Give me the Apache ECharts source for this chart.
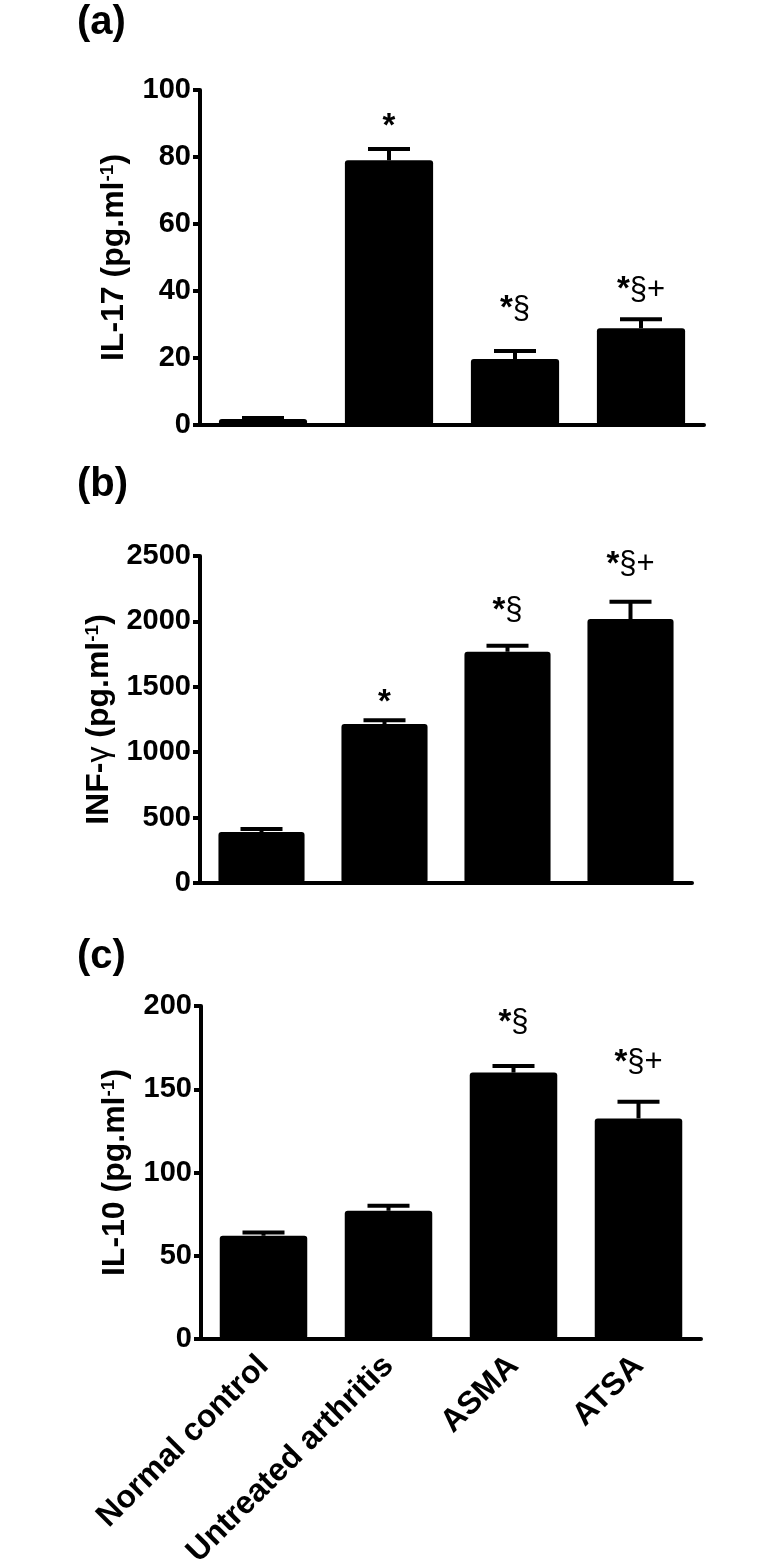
<!DOCTYPE html>
<html><head><meta charset="utf-8">
<script src="https://cdn.jsdelivr.net/npm/echarts@6/dist/echarts.min.js"></script>
<style>html,body{margin:0;padding:0;background:#fff}#c{width:770px;height:1567px}</style>
</head><body><div id="c"></div>
<script>
// ---------------- data ----------------
const categories = ['Normal control', 'Untreated arthritis', 'ASMA', 'ATSA'];

const il17Mean = [1.8, 79, 19.7, 28.9];
const il17Sem  = [0.3, 3.4, 2.4, 2.7];
const il17Marks = ['', '*', '*§', '*§+'];
const il17Ticks = [0, 20, 40, 60, 80, 100];

const infMean = [390, 1215, 1768, 2018];
const infSem  = [22, 29, 46, 132];
const infMarks = ['', '*', '*§', '*§+'];
const infTicks = [0, 500, 1000, 1500, 2000, 2500];

const il10Mean = [62, 77, 160, 132.5];
const il10Sem  = [2, 3, 4, 10];
const il10Marks = ['', '', '*§', '*§+'];
const il10Ticks = [0, 50, 100, 150, 200];

// ---------------- layout / style ----------------
const FONT = 'Liberation Sans, Arial, Helvetica, sans-serif';
const gapsA = [0, 22, 42, 29];
const gapsB = [0, 17, 35, 37];
const gapsC = [0, 0, 43, 39];
const grids = [
  {left: 200, top: 90, width: 504, height: 335, outerBoundsMode: 'none', containLabel: false},
  {left: 200, top: 556, width: 492, height: 327, outerBoundsMode: 'none', containLabel: false},
  {left: 201, top: 1006, width: 500, height: 333, outerBoundsMode: 'none', containLabel: false}
];

function markRich(m) {
  if (!m) return '';
  let s = '';
  if (m[0] === '*') { s += '{s|*}'; m = m.slice(1); }
  if (m) s += '{n|' + m + '}';
  return s;
}

function errRender(marks, gaps) {
  return function (params, api) {
    const i = api.value(0);
    const m = api.value(1), e = api.value(2);
    const base = api.coord([i, m]);
    const top = api.coord([i, m + e]);
    const hw = 21;
    const children = [
      {type: 'line', shape: {x1: base[0], y1: base[1], x2: top[0], y2: top[1]}, style: {stroke: '#000', lineWidth: 4}},
      {type: 'line', shape: {x1: top[0] - hw, y1: top[1], x2: top[0] + hw, y2: top[1]}, style: {stroke: '#000', lineWidth: 4}}
    ];
    if (marks[i]) {
      children.push({
        type: 'text', x: top[0], y: top[1] - gaps[i],
        style: {
          text: markRich(marks[i]), align: 'center', verticalAlign: 'middle',
          rich: {
            s: {fontSize: 33, fontWeight: 'bold', fontFamily: FONT, fill: '#000'},
            n: {fontSize: 31, fontWeight: 'normal', fontFamily: FONT, fill: '#000'}
          }
        }
      });
    }
    return {type: 'group', children: children};
  };
}

function xAxisDef(idx, showLabels) {
  return {
    type: 'category', gridIndex: idx, data: categories,
    axisLine: {lineStyle: {color: '#000', width: 4}},
    axisTick: {alignWithLabel: true, length: 8, lineStyle: {color: '#000', width: 4}},
    axisLabel: {show: showLabels, rotate: 45, margin: 22, color: '#000', fontSize: 32, fontWeight: 'bold', fontFamily: FONT, interval: 0},
    splitLine: {show: false}
  };
}

function yAxisDef(idx, ticks, name) {
  return {
    type: 'value', gridIndex: idx,
    min: ticks[0], max: ticks[ticks.length - 1], interval: ticks[1] - ticks[0],
    name: name, nameLocation: 'middle', nameRotate: 90, nameGap: 70,
    nameTextStyle: {
      color: '#000',
      rich: {
        t: {fontSize: 32, fontWeight: 'bold', fontFamily: FONT, color: '#000'},
        g: {fontSize: 32, fontWeight: 'normal', fontFamily: FONT, color: '#000'},
        s: {fontSize: 19, fontWeight: 'bold', fontFamily: FONT, color: '#000', verticalAlign: 'top'}
      }
    },
    axisLine: {show: true, lineStyle: {color: '#000', width: 4}},
    axisTick: {show: true, length: 7, lineStyle: {color: '#000', width: 4}},
    axisLabel: {color: '#000', fontSize: 29, fontWeight: 'bold', fontFamily: FONT, margin: 9,
      formatter: function (v) { return String(v); }},
    splitLine: {show: false}
  };
}

function barSeries(idx, vals) {
  return {
    type: 'bar', xAxisIndex: idx, yAxisIndex: idx, data: vals, barWidth: '70%',
    itemStyle: {color: '#000', borderRadius: 3}, silent: true, animation: false
  };
}

function errSeries(idx, mean, sem, marks, gaps) {
  return {
    type: 'custom', xAxisIndex: idx, yAxisIndex: idx,
    data: mean.map((v, i) => [i, v, sem[i]]),
    encode: {x: 0, y: 1},
    renderItem: errRender(marks, gaps), z: 5, silent: true, animation: false
  };
}

const chart = echarts.init(document.getElementById('c'), null, {renderer: 'canvas'});
const titleStyle = {fontSize: 40, fontWeight: 'bold', fontFamily: FONT, color: '#000'};
chart.setOption({
  backgroundColor: '#fff',
  animation: false,
  title: [
    {text: '(a)', left: 72, top: -2, textStyle: titleStyle},
    {text: '(b)', left: 72, top: 460, textStyle: titleStyle},
    {text: '(c)', left: 72, top: 932, textStyle: titleStyle}
  ],
  grid: grids,
  xAxis: [xAxisDef(0, false), xAxisDef(1, false), xAxisDef(2, true)],
  yAxis: [
    yAxisDef(0, il17Ticks, '{t|IL-17 (pg.ml}{s|-1}{t|)}'),
    yAxisDef(1, infTicks, '{t|INF-}{g|γ}{t| (pg.ml}{s|-1}{t|)}'),
    yAxisDef(2, il10Ticks, '{t|IL-10 (pg.ml}{s|-1}{t|)}')
  ],
  series: [
    barSeries(0, il17Mean), errSeries(0, il17Mean, il17Sem, il17Marks, gapsA),
    barSeries(1, infMean), errSeries(1, infMean, infSem, infMarks, gapsB),
    barSeries(2, il10Mean), errSeries(2, il10Mean, il10Sem, il10Marks, gapsC)
  ]
});
</script>
</body></html>
